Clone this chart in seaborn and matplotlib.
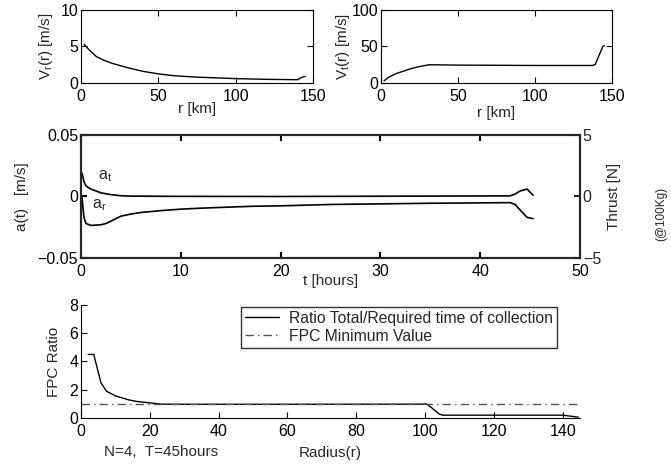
import numpy as np
import pandas as pd
import matplotlib
matplotlib.use("Agg")
import matplotlib.pyplot as plt
import seaborn as sns

# ---- data ----
r_vr = [2, 5, 10, 15, 20, 30, 40, 50, 60, 75, 100, 120, 140, 143, 145]
vr = [5.3, 4.6, 3.6, 3.1, 2.7, 2.1, 1.6, 1.25, 1.0, 0.8, 0.6, 0.5, 0.45, 0.8, 0.9]

r_vt = [2, 5, 10, 15, 20, 25, 30, 32, 50, 100, 137, 139, 142, 144, 145]
vt = [3, 8, 13, 16.5, 20, 22.5, 24.5, 25, 24.5, 24, 24, 25, 40, 50, 51]

t_at = [0.1, 0.3, 0.5, 1, 2, 3, 4, 5, 10, 20, 43, 43.5, 44, 44.7, 45.3]
a_t = [0.019, 0.012, 0.0086, 0.006, 0.003, 0.0015, 0.0006, 0.0003, 0.0001, 0.0, 0.0005, 0.002, 0.0045, 0.006, 0.001]

t_ar = [0.1, 0.3, 0.5, 1, 2, 2.5, 3, 4, 5, 6, 8, 10, 12, 17, 20, 25, 35, 43, 43.5, 44, 44.7, 45.3]
a_r = [-0.001, -0.017, -0.022, -0.0235, -0.023, -0.022, -0.020, -0.016, -0.0143, -0.013, -0.0115, -0.0103, -0.0095, -0.008, -0.0076, -0.0065, -0.0055, -0.005, -0.0065, -0.011, -0.017, -0.018]

radius = [2.1, 3.7, 5.8, 7.4, 10, 12, 13.6, 16, 20, 23.5, 30, 60, 99, 100.4, 102, 104, 105, 140, 144.5]
fpc = [4.5, 4.5, 2.5, 1.9, 1.57, 1.42, 1.3, 1.18, 1.07, 0.98, 0.97, 0.97, 0.98, 1.0, 0.7, 0.3, 0.2, 0.2, 0.06]
fpc_min = 1.0

sns.set_style("ticks")
plt.rcParams['font.family'] = ['Liberation Sans', 'DejaVu Sans']
plt.rcParams['font.size'] = 11
plt.rcParams['mathtext.fontset'] = 'custom'
plt.rcParams['mathtext.rm'] = 'Liberation Sans'
plt.rcParams['mathtext.it'] = 'Liberation Sans'


def matlab_box(ax, lw=0.8):
    for s in ax.spines.values():
        s.set_linewidth(lw)
        s.set_color("black")
    ax.tick_params(direction="in", top=True, right=True, length=4, width=lw,
                   labelsize=11.5, colors="black", pad=2)
    ax.tick_params(axis="x", pad=4)


fig = plt.figure(figsize=(6.71, 4.66), dpi=100)

# ---- top left: radial velocity ----
ax1 = fig.add_axes([0.1207, 0.8219, 0.3458, 0.1567])
sns.lineplot(x=r_vr, y=vr, ax=ax1, color="black", linewidth=1.0)
ax1.set_xlim(0, 150)
ax1.set_ylim(0, 10)
ax1.set_xticks([0, 50, 100, 150])
ax1.set_yticks([0, 5, 10])
ax1.set_xlabel("r [km]", labelpad=-1)
ax1.set_ylabel("V$_r$(r) [m/s]", labelpad=4)
matlab_box(ax1)

# ---- top right: tangential velocity ----
ax2 = fig.add_axes([0.5678, 0.8219, 0.3443, 0.1567])
sns.lineplot(x=r_vt, y=vt, ax=ax2, color="black", linewidth=1.0)
ax2.set_xlim(0, 150)
ax2.set_ylim(0, 100)
ax2.set_xticks([0, 50, 100, 150])
ax2.set_yticks([0, 50, 100])
ax2.set_xlabel("r [km]", labelpad=2)
ax2.set_ylabel("V$_t$(r) [m/s]", labelpad=0)
matlab_box(ax2)

# ---- middle: accelerations ----
ax3 = fig.add_axes([0.1207, 0.4464, 0.7437, 0.2639])
sns.lineplot(x=t_at, y=a_t, ax=ax3, color="black", linewidth=1.2)
sns.lineplot(x=t_ar, y=a_r, ax=ax3, color="black", linewidth=1.2)
ax3.set_xlim(0, 50)
ax3.set_ylim(-0.05, 0.05)
ax3.set_xticks([0, 10, 20, 30, 40, 50])
ax3.set_yticks([-0.05, 0, 0.05])
ax3.set_yticklabels(["\u22120.05", "0", "0.05"])
ax3.set_xlabel("t [hours]", labelpad=-3)
ax3.set_ylabel("a(t)   [m/s]", labelpad=6)
matlab_box(ax3, lw=1.5)
ax3.tick_params(right=False)
ax3.text(1.7, 0.014, "a$_t$", fontsize=11.5)
ax3.text(1.1, -0.010, "a$_r$", fontsize=11.5)

ax3r = ax3.twinx()
ax3r.set_ylim(-5, 5)
ax3r.set_yticks([-5, 0, 5])
ax3r.set_yticklabels(["\u22125", "0", "5"])
ax3r.set_ylabel("Thrust [N]", labelpad=4)
for s in ax3r.spines.values():
    s.set_linewidth(1.5)
ax3r.tick_params(direction="in", length=4, width=1.5, labelsize=11.5, pad=2)
fig.text(0.985, 0.54, "(@100Kg)", rotation=90, fontsize=8.5, ha="center", va="center")

# ---- bottom: FPC ratio ----
ax4 = fig.add_axes([0.1207, 0.1030, 0.7437, 0.2425])
sns.lineplot(x=radius, y=fpc, ax=ax4, color="black", linewidth=1.0,
             label="Ratio Total/Required time of collection")
ax4.axhline(fpc_min, color="#555555", linewidth=1.0, linestyle=(0, (6, 3, 1, 3)),
            label="FPC Minimum Value")
ax4.set_xlim(0, 145)
ax4.set_ylim(0, 8)
ax4.set_xticks(np.arange(0, 141, 20))
ax4.set_yticks([0, 2, 4, 6, 8])
ax4.set_xlabel("Radius(r)", labelpad=5)
ax4.set_ylabel("FPC Ratio", labelpad=6)
matlab_box(ax4)
ax4.tick_params(top=False, right=False)
ax4.spines["top"].set_visible(False)
ax4.spines["right"].set_visible(False)
leg = ax4.legend(loc="upper left", bbox_to_anchor=(0.305, 1.055), fontsize=11.3,
                 frameon=True, fancybox=False, edgecolor="black",
                 handlelength=2.2, borderpad=0.25, labelspacing=0.2,
                 handletextpad=0.6)
leg.get_frame().set_linewidth(1.0)
fig.text(0.155, 0.022, "N=4,  T=45hours", fontsize=11)

fig.savefig("out.png", dpi=100)
